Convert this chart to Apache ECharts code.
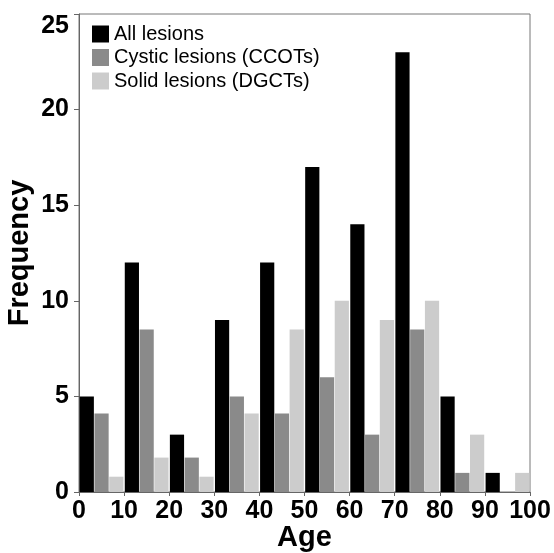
<!DOCTYPE html>
<html>
<head>
<meta charset="utf-8">
<script src="https://cdn.jsdelivr.net/npm/echarts@6/dist/echarts.min.js"></script>
<style>
html,body{margin:0;padding:0;background:#fff;}
#chart{width:554px;height:553px;}
</style>
</head>
<body>
<div id="chart"></div>
<script>
var ageBins = ['0-10','10-20','20-30','30-40','40-50','50-60','60-70','70-80','80-90','90-100'];
var allLesions = [5, 12, 3, 9, 12, 17, 14, 23, 5, 1];
var cysticLesions = [4.1, 8.5, 1.8, 5, 4.1, 6, 3, 8.5, 1, 0];
var solidLesions = [0.8, 1.8, 0.8, 4.1, 8.5, 10, 9, 10, 3, 1];
var ageTicks = [0, 10, 20, 30, 40, 50, 60, 70, 80, 90, 100];
var freqTicks = [0, 5, 10, 15, 20, 25];

var chart = echarts.init(document.getElementById('chart'), null, {renderer: 'canvas'});
var font = 'Liberation Sans, Arial, sans-serif';
chart.setOption({
  animation: false,
  backgroundColor: '#fff',
  textStyle: {fontFamily: font},
  grid: {left: 79, right: 24, top: 14, bottom: 61, show: true, borderColor: '#777', borderWidth: 1,
         backgroundColor: 'transparent', containLabel: false, outerBoundsMode: 'none'},
  legend: {
    orient: 'vertical', left: 87, top: 19, itemWidth: 17, itemHeight: 17, itemGap: 3.5,
    icon: 'rect',
    textStyle: {fontSize: 20, color: '#000', fontFamily: font},
    data: ['All lesions', 'Cystic lesions (CCOTs)', 'Solid lesions (DGCTs)']
  },
  xAxis: [
    {type: 'category', data: ageBins, show: false, boundaryGap: true},
    {type: 'value', min: ageTicks[0], max: ageTicks[ageTicks.length - 1], interval: ageTicks[1] - ageTicks[0],
     position: 'bottom',
     name: 'Age', nameLocation: 'middle', nameGap: 31, nameMoveOverlap: false,
     nameTextStyle: {fontSize: 29, fontWeight: 'bold', color: '#000', fontFamily: font},
     axisLine: {show: true, lineStyle: {color: '#666', width: 1}},
     axisTick: {show: true, inside: false, length: 4, lineStyle: {color: '#666'}},
     axisLabel: {fontSize: 25, fontWeight: 'bold', color: '#000', margin: 7, fontFamily: font,
       formatter: function (v) { return ageTicks.indexOf(v) >= 0 ? String(v) : ''; }},
     splitLine: {show: false}}
  ],
  yAxis: {
    type: 'value', min: freqTicks[0], max: freqTicks[freqTicks.length - 1], interval: freqTicks[1] - freqTicks[0],
    name: 'Frequency', nameLocation: 'middle', nameGap: 45, nameRotate: 90, nameMoveOverlap: false,
    nameTextStyle: {fontSize: 29, fontWeight: 'bold', color: '#000', fontFamily: font},
    axisLine: {show: true, lineStyle: {color: '#666', width: 1}},
    axisTick: {show: true, inside: false, length: 5, lineStyle: {color: '#666'}},
    axisLabel: {fontSize: 25, fontWeight: 'bold', color: '#000', margin: 10, fontFamily: font, verticalAlignMaxLabel: 'top'},
    splitLine: {show: false}
  },
  series: [
    {name: 'All lesions', type: 'bar', xAxisIndex: 0, data: allLesions, itemStyle: {color: '#000000'},
     barGap: '4%', barCategoryGap: '3%'},
    {name: 'Cystic lesions (CCOTs)', type: 'bar', xAxisIndex: 0, data: cysticLesions, itemStyle: {color: '#8a8a8a'},
     barGap: '4%', barCategoryGap: '3%'},
    {name: 'Solid lesions (DGCTs)', type: 'bar', xAxisIndex: 0, data: solidLesions, itemStyle: {color: '#cccccc'},
     barGap: '4%', barCategoryGap: '3%'}
  ]
});
</script>
</body>
</html>
